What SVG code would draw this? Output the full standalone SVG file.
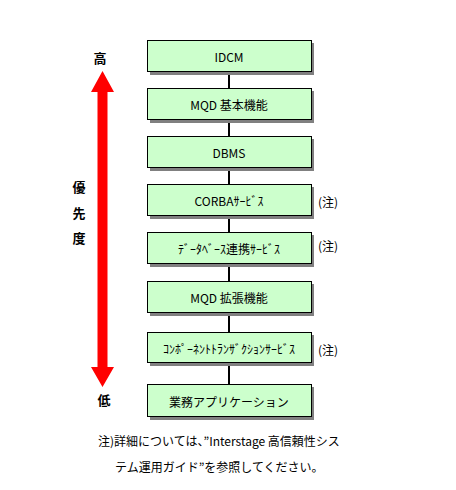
<svg xmlns="http://www.w3.org/2000/svg" width="456" height="490" viewBox="0 0 456 490">
<style>
.sh{fill:#808080}
.bx{fill:#ccffcc;stroke:#000;stroke-width:1}
.t{font-family:"Noto Sans CJK JP","DejaVu Sans",sans-serif;font-size:12px;text-anchor:middle;dominant-baseline:central;fill:#000}
.lb{font-family:"Noto Sans CJK JP",sans-serif;font-size:13px;font-weight:bold;text-anchor:middle;dominant-baseline:central;fill:#000}
.n{font-family:"Noto Sans CJK JP",sans-serif;font-size:12px;dominant-baseline:central;fill:#000}
.c{stroke:#000;stroke-width:2;fill:none}
</style>
<rect width="456" height="490" fill="#fff"/>
<g id="connectors">
<line class="c" x1="229" y1="72" x2="229" y2="88"/>
<line class="c" x1="229" y1="120" x2="229" y2="136"/>
<line class="c" x1="229" y1="168" x2="229" y2="184"/>
<line class="c" x1="229" y1="216" x2="229" y2="232"/>
<line class="c" x1="229" y1="264" x2="229" y2="281"/>
<line class="c" x1="229" y1="313" x2="229" y2="332"/>
<line class="c" x1="229" y1="363" x2="229" y2="384"/>
</g>
<g id="priority-arrow">
<polygon fill="#ff0000" points="102.5,71 114,92 107.5,92 107.5,367 114,367 102.5,387 91,367 97.5,367 97.5,92 91,92"/>
<text class="lb" x="100" y="57">高</text>
<text class="lb" x="79" y="186">優</text>
<text class="lb" x="79" y="212">先</text>
<text class="lb" x="79" y="237">度</text>
<text class="lb" x="104" y="399">低</text>
</g>
<g id="n1"><rect class="sh" x="150" y="43" width="164" height="32"/><rect class="bx" x="147.5" y="40.5" width="164" height="31"/><text class="t" x="229" y="56">IDCM</text></g>
<g id="n2"><rect class="sh" x="150" y="91" width="164" height="32"/><rect class="bx" x="147.5" y="88.5" width="164" height="31"/><text class="t" x="229" y="104">MQD 基本機能</text></g>
<g id="n3"><rect class="sh" x="150" y="139" width="164" height="32"/><rect class="bx" x="147.5" y="136.5" width="164" height="31"/><text class="t" x="229" y="152">DBMS</text></g>
<g id="n4"><rect class="sh" x="150" y="187" width="164" height="32"/><rect class="bx" x="147.5" y="184.5" width="164" height="31"/><text class="t" x="229" y="200">CORBAｻｰﾋﾞｽ</text><text class="n" x="318" y="201">(注)</text></g>
<g id="n5"><rect class="sh" x="150" y="235" width="164" height="32"/><rect class="bx" x="147.5" y="232.5" width="164" height="31"/><text class="t" x="229" y="248">ﾃﾞｰﾀﾍﾞｰｽ連携ｻｰﾋﾞｽ</text><text class="n" x="318" y="245">(注)</text></g>
<g id="n6"><rect class="sh" x="150" y="284" width="164" height="32"/><rect class="bx" x="147.5" y="281.5" width="164" height="31"/><text class="t" x="229" y="297">MQD 拡張機能</text></g>
<g id="n7"><rect class="sh" x="150" y="335" width="164" height="31"/><rect class="bx" x="147.5" y="332.5" width="164" height="30"/><text class="t" x="229" y="348">ｺﾝﾎﾟｰﾈﾝﾄﾄﾗﾝｻﾞｸｼｮﾝｻｰﾋﾞｽ</text><text class="n" x="318" y="349">(注)</text></g>
<g id="n8"><rect class="sh" x="150" y="387" width="164" height="33"/><rect class="bx" x="147.5" y="384.5" width="164" height="32"/><text class="t" x="229" y="401">業務アプリケーション</text></g>
<g id="footnote">
<text class="n" x="98" y="440">注)詳細については、”Interstage 高信頼性シス</text>
<text class="n" x="115" y="466">テム運用ガイド”を参照してください。</text>
</g>
</svg>
